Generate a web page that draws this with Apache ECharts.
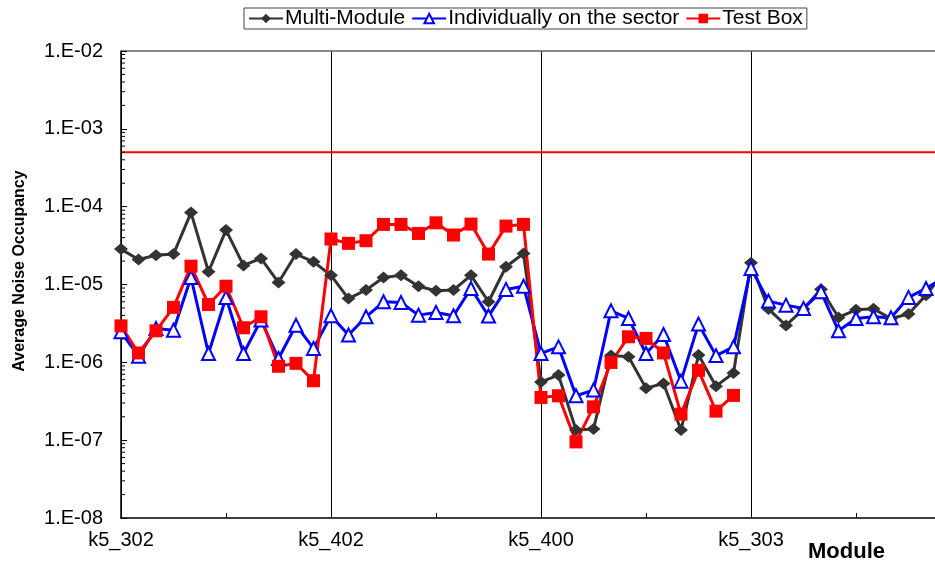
<!DOCTYPE html>
<html>
<head>
<meta charset="utf-8">
<script src="https://cdn.jsdelivr.net/npm/echarts@6/dist/echarts.min.js"></script>
<style>
html,body{margin:0;padding:0;background:#fff;}
#chart{width:935px;height:561px;}
</style>
</head>
<body>
<div id="chart"></div>
<script>
// ---- data ----
var sectorLabels = ['k5_302', 'k5_402', 'k5_400', 'k5_303'];
var modulesPerSector = 12;
var positionCount = 49;

var multiModule = [
  2.85e-5, 2.1e-5, 2.37e-5, 2.46e-5, 8.4e-5, 1.46e-5, 5.0e-5, 1.76e-5, 2.16e-5, 1.06e-5, 2.46e-5, 1.96e-5,
  1.31e-5, 6.6e-6, 8.5e-6, 1.23e-5, 1.31e-5, 9.5e-6, 8.3e-6, 8.5e-6, 1.31e-5, 6.0e-6, 1.69e-5, 2.5e-5,
  5.6e-7, 6.85e-7, 1.35e-7, 1.39e-7, 1.22e-6, 1.18e-6, 4.66e-7, 5.35e-7, 1.35e-7, 1.24e-6, 4.94e-7, 7.3e-7,
  1.9e-5, 4.83e-6, 2.98e-6, 4.83e-6, 8.7e-6, 3.77e-6, 4.73e-6, 4.87e-6, 3.66e-6, 4.17e-6, 7.3e-6, 1.4e-5
];
var onSector = [
  2.47e-6, 1.2e-6, 2.72e-6, 2.59e-6, 1.23e-5, 1.3e-6, 6.8e-6, 1.3e-6, 3.49e-6, 1.12e-6, 3.0e-6, 1.51e-6,
  3.96e-6, 2.24e-6, 3.85e-6, 6.0e-6, 5.88e-6, 4.04e-6, 4.38e-6, 3.96e-6, 8.9e-6, 3.93e-6, 8.65e-6, 9.5e-6,
  1.3e-6, 1.58e-6, 3.72e-7, 4.4e-7, 4.59e-6, 3.66e-6, 1.3e-6, 2.28e-6, 5.73e-7, 3.1e-6, 1.22e-6, 1.58e-6,
  1.61e-5, 6.12e-6, 5.43e-6, 4.93e-6, 8.05e-6, 2.54e-6, 3.66e-6, 3.85e-6, 3.73e-6, 6.83e-6, 8.9e-6, 1.21e-5
];
var testBox = [
  2.94e-6, 1.32e-6, 2.54e-6, 5.08e-6, 1.72e-5, 5.54e-6, 9.5e-6, 2.78e-6, 3.85e-6, 8.9e-7, 9.7e-7, 5.8e-7,
  3.84e-5, 3.38e-5, 3.65e-5, 5.92e-5, 5.92e-5, 4.53e-5, 6.2e-5, 4.32e-5, 5.97e-5, 2.46e-5, 5.63e-5, 5.92e-5,
  3.54e-7, 3.72e-7, 9.5e-8, 2.68e-7, 9.97e-7, 2.13e-6, 2.03e-6, 1.32e-6, 2.16e-7, 7.9e-7, 2.36e-7, 3.76e-7
];
var occupancyLimit = 5e-4;
var yMin = 1e-8, yMax = 1e-2;

// ---- build ----
var categories = [];
for (var i = 0; i < positionCount; i++) categories.push(String(i));
var limitLine = categories.map(function () { return occupancyLimit; });

var minorTicks = [];
for (var e = -8; e < -2; e++) {
  for (var m = 2; m <= 9; m++) minorTicks.push([0, m * Math.pow(10, e)]);
}

var FONT = '"Liberation Sans", Arial, sans-serif';

function fmtY(v) {
  var ex = Math.round(Math.log10(v));
  var s = Math.abs(ex) < 10 ? '0' + Math.abs(ex) : String(Math.abs(ex));
  return '1.E' + (ex < 0 ? '-' : '+') + s;
}

var chart = echarts.init(document.getElementById('chart'), null, {renderer: 'canvas'});
chart.setOption({
  animation: false,
  backgroundColor: '#ffffff',
  textStyle: {fontFamily: FONT},
  legend: {
    data: ['Multi-Module', 'Individually on the sector', 'Test Box'],
    left: 244, top: 8,
    padding: [0, 4],
    itemGap: 6,
    itemWidth: 34, itemHeight: 12,
    borderColor: '#444', borderWidth: 1,
    textStyle: {fontFamily: FONT, fontSize: 21, color: '#000', padding: [0, 0, 0, -3]}
  },
  grid: {left: 121, top: 51, height: 467, width: 840, containLabel: false, outerBoundsMode: 'none'},
  xAxis: [{
    type: 'category',
    data: categories,
    boundaryGap: false,
    axisLine: {show: true, lineStyle: {color: '#000', width: 1.5}},
    axisTick: {show: true, inside: true, interval: 5, length: 5, lineStyle: {color: '#000'}},
    axisLabel: {
      interval: 0, margin: 12, fontSize: 20, color: '#000', fontFamily: FONT,
      formatter: function (v, idx) {
        return idx % modulesPerSector === 0 && sectorLabels[idx / modulesPerSector] ? sectorLabels[idx / modulesPerSector] : '';
      }
    },
    splitLine: {show: true, interval: modulesPerSector - 1, lineStyle: {color: '#000', width: 1}}
  }, {
    type: 'category',
    data: categories,
    boundaryGap: false,
    position: 'top',
    axisLine: {show: true, lineStyle: {color: '#666', width: 1.5}},
    axisTick: {show: false},
    axisLabel: {show: false},
    splitLine: {show: false}
  }],
  yAxis: {
    type: 'log',
    logBase: 10,
    min: yMin, max: yMax,
    splitNumber: 6,
    axisLine: {show: true, lineStyle: {color: '#000', width: 1.5}},
    axisTick: {show: true, inside: true, length: 6, lineStyle: {color: '#000'}},
    axisLabel: {fontSize: 20, color: '#000', margin: 18, fontFamily: FONT, formatter: fmtY},
    splitLine: {show: false}
  },
  graphic: [{
    type: 'text', x: 20, y: 271, rotation: Math.PI / 2,
    style: {text: 'Average Noise Occupancy', fontFamily: FONT, fontSize: 16, fontWeight: 'bold', fill: '#000',
            align: 'center', verticalAlign: 'middle'}
  }, {
    type: 'text', left: 808, top: 541,
    style: {text: 'Module', fontFamily: FONT, fontSize: 22, fontWeight: 'bold', fill: '#000'}
  }],
  series: [{
    type: 'custom',
    name: 'minorTicks',
    data: minorTicks,
    clip: false,
    silent: true,
    renderItem: function (params, api) {
      var p = api.coord([0, api.value(1)]);
      return {type: 'line', shape: {x1: p[0], y1: p[1], x2: p[0] + 4, y2: p[1]}, style: {stroke: '#000', lineWidth: 1}};
    }
  }, {
    name: 'limit',
    type: 'line',
    data: limitLine,
    symbol: 'none',
    silent: true,
    lineStyle: {width: 2, color: '#ff0000'},
    z: 1
  }, {
    name: 'Multi-Module',
    type: 'line',
    data: multiModule,
    symbol: 'diamond',
    symbolSize: [14, 12],
    color: '#333333',
    lineStyle: {width: 3, color: '#333333'},
    itemStyle: {color: '#333333'}
  }, {
    name: 'Individually on the sector',
    type: 'line',
    data: onSector,
    symbol: 'emptyTriangle',
    symbolSize: 13,
    color: '#0000ff',
    lineStyle: {width: 3, color: '#0000ff'},
    itemStyle: {color: '#0000ff', borderWidth: 1.5}
  }, {
    name: 'Test Box',
    type: 'line',
    data: testBox,
    symbol: 'rect',
    symbolSize: 13,
    color: '#ff0000',
    lineStyle: {width: 3, color: '#ff0000'},
    itemStyle: {color: '#ff0000'}
  }]
});
</script>
</body>
</html>
